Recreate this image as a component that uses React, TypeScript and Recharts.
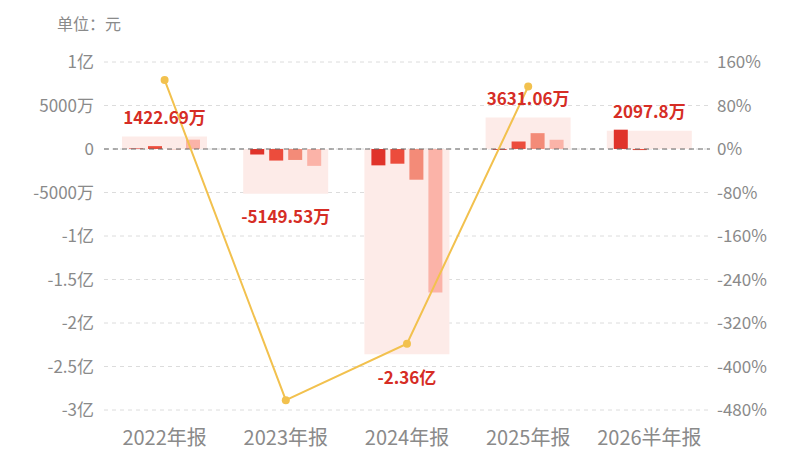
import React from 'react';
import {
  ComposedChart,
  Bar,
  Line,
  XAxis,
  YAxis,
  CartesianGrid,
  ReferenceLine,
  LabelList,
} from 'recharts';

// values in 万元
const categories = ['2022年报', '2023年报', '2024年报', '2025年报', '2026半年报'];
const totals = [1422.69, -5149.53, -23600, 3631.06, 2097.8];
const totalLabels = ['1422.69万', '-5149.53万', '-2.36亿', '3631.06万', '2097.8万'];
const q1 = [60, -620, -1880, -100, 2220];
const q2 = [330, -1330, -1690, 850, -122.2];
const q3 = [-40, -1260, -3530, 1820, null];
const q4 = [1072.69, -1939.53, -16500, 1061.06, null];
const growth = [127, -462, -358, 115, null];

const leftTicks = [10000, 5000, 0, -5000, -10000, -15000, -20000, -25000, -30000];
const rightTicks = [160, 80, 0, -80, -160, -240, -320, -400, -480];

const data = categories.map((name, i) => ({
  name,
  total: totals[i],
  label: totalLabels[i],
  q1: q1[i],
  q2: q2[i],
  q3: q3[i],
  q4: q4[i],
  growth: growth[i],
}));

const FONT = "'Noto Sans CJK SC', 'Noto Sans', sans-serif";

const fmtLeft = (v: number) => {
  if (v === 0) return '0';
  if (Math.abs(v) >= 10000) return `${v / 10000}亿`;
  return `${v}万`;
};

const TotalLabel = (props: any) => {
  const { x, y, width, height, index } = props;
  const v = totals[index];
  const top = Math.min(y, y + height);
  const bottom = Math.max(y, y + height);
  const cx = x + width / 2;
  const ty = v >= 0 ? top - 20 : bottom + 22;
  return (
    <text
      x={cx}
      y={ty}
      textAnchor="middle"
      dominantBaseline="central"
      fill="#d62d25"
      fontSize={17}
      fontWeight={700}
      fontFamily={FONT}
    >
      {totalLabels[index]}
    </text>
  );
};

export default function App() {
  return (
    <div
      style={{
        position: 'absolute',
        left: 0,
        top: 0,
        width: 800,
        height: 450,
        background: '#fff',
        fontFamily: FONT,
        overflow: 'hidden',
      }}
    >
      <div
        style={{
          position: 'absolute',
          left: 57,
          top: 11,
          fontSize: 16,
          color: '#8a8a8a',
          fontFamily: FONT,
        }}
      >
        单位：元
      </div>
      <ComposedChart
        width={800}
        height={450}
        data={data}
        margin={{ top: 62, right: 0, bottom: 0, left: 0 }}
        barGap={5}
      >
        <CartesianGrid
          vertical={false}
          stroke="#dcdcdc"
          strokeDasharray="4 4"
          yAxisId="left"
          xAxisId="main"
        />
        <XAxis xAxisId="bg" dataKey="name" orientation="top" height={0} hide />
        <XAxis
          xAxisId="main"
          dataKey="name"
          height={40}
          tickLine={false}
          axisLine={false}
          tickSize={0}
          tickMargin={21}
          tick={{ fill: '#8a8a8a', fontSize: 20, fontFamily: FONT }}
          interval={0}
        />
        <YAxis
          yAxisId="left"
          orientation="left"
          width={104}
          domain={[-30000, 10000]}
          ticks={leftTicks}
          tickFormatter={fmtLeft}
          tickLine={false}
          axisLine={false}
          tickSize={0}
          tickMargin={10}
          tick={{ fill: '#8a8a8a', fontSize: 17, fontFamily: FONT }}
          interval={0}
        />
        <YAxis
          yAxisId="right"
          orientation="right"
          width={90}
          domain={[-480, 160]}
          ticks={rightTicks}
          tickFormatter={(v: number) => `${v}%`}
          tickLine={false}
          axisLine={false}
          tickSize={0}
          tickMargin={7}
          tick={{ fill: '#8a8a8a', fontSize: 17, fontFamily: FONT, textAnchor: 'start' }}
          interval={0}
        />
        <Bar
          xAxisId="bg"
          yAxisId="left"
          dataKey="total"
          barSize={85}
          fill="#fdebe8"
          isAnimationActive={false}
        >
          <LabelList dataKey="total" content={TotalLabel} />
        </Bar>
        <Bar xAxisId="main" yAxisId="left" dataKey="q1" barSize={14} fill="#e0332a" isAnimationActive={false} />
        <Bar xAxisId="main" yAxisId="left" dataKey="q2" barSize={14} fill="#ec4c3c" isAnimationActive={false} />
        <Bar xAxisId="main" yAxisId="left" dataKey="q3" barSize={14} fill="#f38b78" isAnimationActive={false} />
        <Bar xAxisId="main" yAxisId="left" dataKey="q4" barSize={14} fill="#fbb3a8" isAnimationActive={false} />
        <ReferenceLine xAxisId="main" yAxisId="left" y={0} stroke="#666" strokeDasharray="5 4" />
        <Line
          xAxisId="main"
          yAxisId="right"
          dataKey="growth"
          stroke="#f2c14e"
          strokeWidth={2}
          dot={{ r: 4, fill: '#f2c14e', stroke: 'none' }}
          activeDot={false}
          isAnimationActive={false}
          connectNulls={false}
        />
      </ComposedChart>
    </div>
  );
}
